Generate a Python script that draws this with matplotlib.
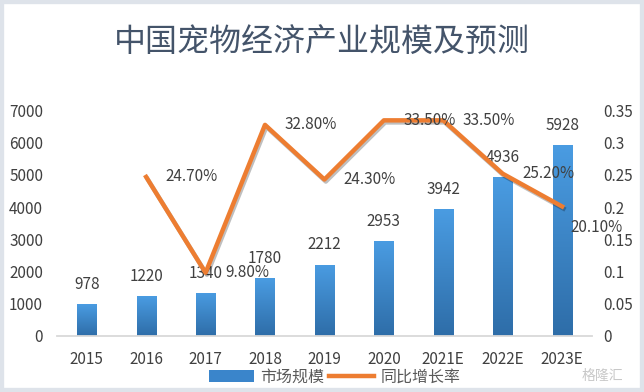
import numpy as np
import matplotlib.pyplot as plt
from matplotlib.patches import Patch, Rectangle
from matplotlib.lines import Line2D
from matplotlib.colors import LinearSegmentedColormap
import matplotlib.patheffects as pe

plt.rcParams['font.family'] = ['Noto Sans CJK SC', 'DejaVu Sans']

# data
years = ['2015', '2016', '2017', '2018', '2019', '2020', '2021E', '2022E', '2023E']
market_size = [978, 1220, 1340, 1780, 2212, 2953, 3942, 4936, 5928]
growth = [np.nan, 0.247, 0.098, 0.328, 0.243, 0.335, 0.335, 0.252, 0.201]
growth_labels = ['', '24.70%', '9.80%', '32.80%', '24.30%', '33.50%', '33.50%', '25.20%', '20.10%']

title = '中国宠物经济产业规模及预测'
legend_names = ['市场规模', '同比增长率']

text_col = '#404040'
blue_cmap = LinearSegmentedColormap.from_list('bars', ['#2E6DA8', '#4A9CE2'])

fig = plt.figure(figsize=(6.44, 3.92), dpi=100)
ax = fig.add_axes([0.0885, 0.1436, 0.8305, 0.574])
ax2 = ax.twinx()

x = np.arange(len(years))
bars = ax.bar(x, market_size, width=0.32, color='none', zorder=2)

# vertical gradient fill for each bar
grad = np.linspace(0, 1, 256).reshape(-1, 1)
for b in bars:
    x0, y0 = b.get_x(), b.get_y()
    w, h = b.get_width(), b.get_height()
    im = ax.imshow(grad, extent=[x0, x0 + w, y0, y0 + h], origin='lower',
                   aspect='auto', cmap=blue_cmap, zorder=2)
    im.set_clip_path(b)

for xi, v in zip(x, market_size):
    ax.annotate(str(v), (xi, v), xytext=(0, 8), textcoords='offset points',
                ha='center', va='bottom', fontsize=11, color=text_col)

ax.set_xlim(-0.5, len(years) - 0.5)
ax.set_ylim(0, 7000)
ax.set_yticks(range(0, 7001, 1000))
ax.set_xticks(x)
ax.set_xticklabels(years)

ax2.plot(x, growth, color='#ED7D31', lw=3.2, solid_joinstyle='round', zorder=3,
         path_effects=[pe.SimpleLineShadow(offset=(1, -1.5), alpha=0.25), pe.Normal()])
ax2.set_ylim(0, 0.35)
ax2.set_yticks(np.arange(0, 0.351, 0.05))
ax2.set_yticklabels(['%g' % round(t, 2) for t in np.arange(0, 0.351, 0.05)])

for i, (xi, v, lab) in enumerate(zip(x, growth, growth_labels)):
    if not lab:
        continue
    off = (6, -15) if i == len(years) - 1 else (14, 0)
    ax2.annotate(lab, (xi, v), xytext=off, textcoords='offset points',
                 ha='left', va='center', fontsize=11, color=text_col)

for a in (ax, ax2):
    for s in a.spines.values():
        s.set_visible(False)
    a.tick_params(length=0, labelsize=11, labelcolor=text_col)
ax.spines['bottom'].set_visible(True)
ax.spines['bottom'].set_color('#D9D9D9')
ax.spines['bottom'].set_linewidth(1.3)
ax.tick_params(axis='x', pad=11)
ax.tick_params(axis='y', pad=10)
ax2.tick_params(axis='y', pad=8)

fig.text(0.5, 0.893, title, ha='center', va='center', fontsize=23, color='#44546A')

handles = [Patch(facecolor='#3A85CB'),
           Line2D([0], [0], color='#ED7D31', lw=3.2)]
fig.legend(handles, legend_names, loc='center', bbox_to_anchor=(0.52, 0.038), ncol=2,
           frameon=False, fontsize=11.5, labelcolor='#595959', handlelength=2.8,
           handletextpad=0.4, columnspacing=0.3, borderpad=0.1)

fig.text(0.935, 0.041, '格隆汇', ha='center', va='center', fontsize=10, color='#C8C8C8')

fig.add_artist(Rectangle((0, 0), 1, 1, transform=fig.transFigure, fill=False,
                         edgecolor='#DEE3EA', lw=6))

fig.savefig('out.png', dpi=100)
